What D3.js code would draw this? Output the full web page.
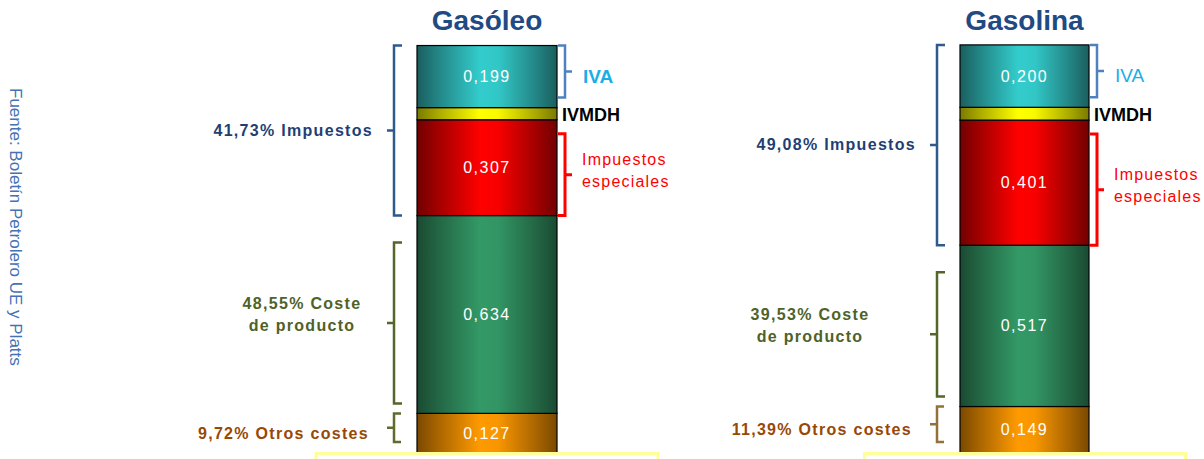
<!DOCTYPE html>
<html>
<head>
<meta charset="utf-8">
<script src="https://cdn.jsdelivr.net/npm/d3@7"></script>
<style>
  body { margin: 0; background: #fff; }
  svg { display: block; font-family: "Liberation Sans", Arial, sans-serif; }
</style>
</head>
<body>
<div id="chart"></div>
<script>
// Data (euros per litre)
var products = ["Gasóleo", "Gasolina"];
var components = ["Otros costes", "Coste de producto", "Impuestos especiales", "IVMDH", "IVA"];
var gasoleoValues = [0.127, 0.634, 0.307, 0.039, 0.199];
var gasolinaValues = [0.149, 0.517, 0.401, 0.041, 0.200];
var impuestosPct = ["41,73%", "49,08%"];
var costePct = ["48,55%", "39,53%"];
var otrosPct = ["9,72%", "11,39%"];
var sourceText = "Fuente: Boletín Petrolero UE y Platts";

var width = 1204;
var height = 459;

// Colours: dark edge and bright centre of each cylinder-like segment
var segColors = {
  "Otros costes": ["#7a4900", "#ff9a00"],
  "Coste de producto": ["#1a4a32", "#339966"],
  "Impuestos especiales": ["#720000", "#ff0000"],
  "IVMDH": ["#7a7a00", "#ffff00"],
  "IVA": ["#1b5e5e", "#33cccc"]
};

var svg = d3.select("#chart")
  .append("svg")
  .attr("width", width)
  .attr("height", height);

// Build the table that d3.stack needs
var table = products.map(function (p, i) {
  var row = { product: p };
  var vals = i === 0 ? gasoleoValues : gasolinaValues;
  components.forEach(function (c, k) { row[c] = vals[k]; });
  return row;
});
var series = d3.stack().keys(components)(table);

var x = d3.scalePoint().domain(products).range([487, 1024.5]);
var y = d3.scaleLinear().domain([0, 1.4]).range([453, 16.2]);
var barWidths = [140, 129];
var bw = function (p) { return barWidths[products.indexOf(p)]; };

var fmt = function (v) { return d3.format(".3f")(v).replace(".", ","); };

// Gradients
var defs = svg.append("defs");
components.forEach(function (c, k) {
  var cols = segColors[c];
  var mix = d3.interpolateRgb(cols[0], cols[1]);
  var grad = defs.append("linearGradient")
    .attr("id", "grad" + k)
    .attr("x1", "0%").attr("x2", "100%").attr("y1", "0%").attr("y2", "0%");
  [[0, 0], [0.15, 0.35], [0.45, 1], [0.58, 0.95], [0.85, 0.35], [1, 0]].forEach(function (s) {
    grad.append("stop").attr("offset", s[0]).attr("stop-color", mix(s[1]));
  });
});

// Source text on the left
svg.append("text")
  .attr("transform", "translate(10,88) rotate(90)")
  .style("font-size", "17px")
  .attr("fill", "#4472b4")
  .text(sourceText);

// Bars
var layers = svg.selectAll("g.layer")
  .data(series)
  .enter()
  .append("g")
  .attr("class", "layer")
  .attr("fill", function (d, k) { return "url(#grad" + k + ")"; });

layers.selectAll("rect")
  .data(function (d) { return d; })
  .enter()
  .append("rect")
  .attr("x", function (d) { return x(d.data.product) - bw(d.data.product) / 2; })
  .attr("y", function (d) { return y(d[1]); })
  .attr("width", function (d) { return bw(d.data.product); })
  .attr("height", function (d) { return y(d[0]) - y(d[1]); })
  .attr("stroke", "#000")
  .attr("stroke-width", 1.2);

// Value labels (not for IVMDH)
series.forEach(function (s) {
  if (s.key === "IVMDH") return;
  svg.selectAll(null)
    .data(s)
    .enter()
    .append("text")
    .attr("x", function (d) { return x(d.data.product); })
    .attr("y", function (d) { return (y(d[0]) + y(d[1])) / 2; })
    .attr("dy", "0.35em")
    .attr("text-anchor", "middle")
    .attr("fill", "#fff")
    .style("font-size", "16px")
    .style("letter-spacing", "1.5px")
    .text(function (d) { return fmt(d.data[s.key]); });
});

// Titles
svg.selectAll("text.title")
  .data(products)
  .enter()
  .append("text")
  .attr("class", "title")
  .attr("x", function (d) { return x(d); })
  .attr("y", 30)
  .attr("text-anchor", "middle")
  .attr("fill", "#1f4a84")
  .style("font-size", "28px")
  .style("font-weight", "bold")
  .text(function (d) { return d; });

// Bracket helper: side -1 = left of bar (opens right), +1 = right of bar (opens left)
function bracket(bx, y0, y1, side, color, hook, sw) {
  var h = -side * hook;
  var mid = (y0 + y1) / 2;
  svg.append("path")
    .attr("d", "M" + (bx + h) + "," + y0 + "H" + bx + "V" + y1 + "H" + (bx + h) +
      "M" + bx + "," + mid + "H" + (bx + side * 7))
    .attr("fill", "none")
    .attr("stroke", color)
    .attr("stroke-width", sw);
  return mid;
}

function label(lx, ly, txt, anchor, color, size, weight, spacing) {
  return svg.append("text")
    .attr("x", lx)
    .attr("y", ly)
    .attr("text-anchor", anchor)
    .attr("fill", color)
    .style("font-size", size + "px")
    .style("font-weight", weight)
    .style("letter-spacing", spacing + "px")
    .text(txt);
}

var costeLabelDx = [-92, -127];
var ivaWeight = ["bold", "normal"];

products.forEach(function (p, i) {
  var seg = series.map(function (s) { return s[i]; });
  var left = x(p) - bw(p) / 2;
  var right = x(p) + bw(p) / 2;
  var lbx = left - 23;
  var rbx = right + 8;

  // Impuestos (IVA + IVMDH + especiales)
  var m = bracket(lbx, y(seg[4][1]), y(seg[2][0]), -1, "#2e5a8c", 8, 2.5);
  label(lbx - 21, m + 5, impuestosPct[i] + " Impuestos", "end", "#1f3f73", 16, "bold", 1.3);

  // Coste de producto
  m = bracket(lbx, y(seg[1][1]) + 27, y(seg[1][0]) - 10, -1, "#55662b", 8, 2.5);
  label(lbx + costeLabelDx[i], m - 14, costePct[i] + " Coste", "middle", "#4f6228", 16, "bold", 1.3);
  label(lbx + costeLabelDx[i], m + 8, "de producto", "middle", "#4f6228", 16, "bold", 1.3);

  // Otros costes
  m = bracket(lbx, y(seg[0][1]), y(seg[0][0]) - 11, -1, i === 0 ? "#5f6b2f" : "#94703a", 7, 2.5);
  label(lbx - 25, m + 11, otrosPct[i] + " Otros costes", "end", "#984806", 16, "bold", 1.3);

  // IVA
  m = bracket(rbx, y(seg[4][1]), y(seg[4][0]) - 10, 1, "#4f81bd", 7, 2.5);
  label(rbx + 18, m + 11, "IVA", "start", "#1aaee6", 19, ivaWeight[i], 0);

  // IVMDH
  label(right + 5, (y(seg[3][0]) + y(seg[3][1])) / 2 + 7, "IVMDH", "start", "#000", 18, "bold", 0);

  // Impuestos especiales
  m = bracket(rbx, y(seg[2][1]) + 14, y(seg[2][0]), 1, "#ff0000", 7, 3);
  label(rbx + 17, m - 10, "Impuestos", "start", "#ff0000", 16, "normal", 1.2);
  label(rbx + 17, m + 12, "especiales", "start", "#ff0000", 16, "normal", 1.2);
});

// Pale yellow boxes at the bottom
svg.selectAll("rect.box")
  .data(products)
  .enter()
  .append("rect")
  .attr("class", "box")
  .attr("x", function (d, i) { return x(d) - (i === 0 ? 171 : 160); })
  .attr("y", 453.5)
  .attr("width", function (d, i) { return i === 0 ? 342 : 321; })
  .attr("height", 20)
  .attr("fill", "#fff")
  .attr("stroke", "#ffff99")
  .attr("stroke-width", 3);
</script>
</body>
</html>
